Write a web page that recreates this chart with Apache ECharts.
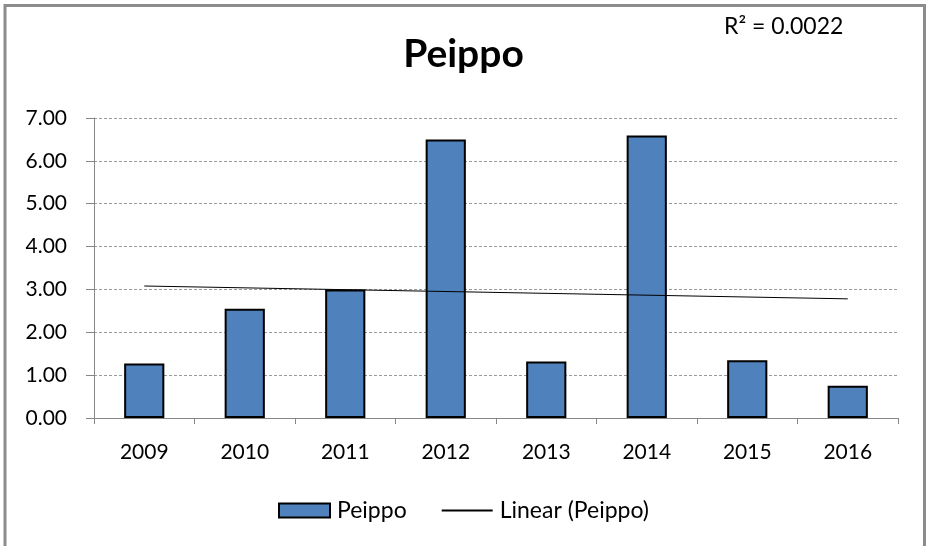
<!DOCTYPE html>
<html>
<head>
<meta charset="utf-8">
<script src="https://cdn.jsdelivr.net/npm/echarts@6/dist/echarts.min.js"></script>
<style>
  html, body { margin: 0; padding: 0; background: #fff; }
  #chart { width: 927px; height: 546px; }
</style>
</head>
<body>
<div id="chart"></div>
<script>
const years = ['2009', '2010', '2011', '2012', '2013', '2014', '2015', '2016']
const peippo = [1.27, 2.55, 3.0, 6.5, 1.32, 6.59, 1.35, 0.75]
// trendline endpoints as drawn (2009 -> 2016)
const trendStart = 3.08
const trendEnd = 2.78
const yTicks = [0, 1, 2, 3, 4, 5, 6, 7]
const rSquared = 'R² = 0.0022'

const font = 'Lato, "Open Sans", sans-serif'
const chart = echarts.init(document.getElementById('chart'))

chart.setOption({
  animation: false,
  title: {
    text: 'Peippo',
    left: 'center',
    top: 30,
    textStyle: { fontFamily: font, fontWeight: 'bold', fontSize: 39, color: '#000' },
  },
  grid: { left: 94, right: 29, top: 118, bottom: 128, containLabel: false },
  legend: {
    left: 278,
    top: 499,
    padding: 0,
    itemGap: 34,
    itemWidth: 51,
    itemHeight: 14,
    textStyle: { fontFamily: font, fontSize: 23, color: '#000', padding: [0, 0, 0, 2] },
    data: [{ name: 'Peippo', icon: 'rect' }, { name: 'Linear (Peippo)', itemStyle: { opacity: 0 } }],
  },
  xAxis: {
    type: 'category',
    data: years,
    axisLine: { lineStyle: { color: '#868686', width: 1 } },
    axisTick: { show: true, length: 6, inside: false, alignWithLabel: false, lineStyle: { color: '#868686' } },
    axisLabel: { fontFamily: font, fontSize: 21, color: '#000', margin: 24 },
  },
  yAxis: {
    type: 'value',
    min: yTicks[0],
    max: yTicks[yTicks.length - 1],
    interval: 1,
    axisLine: { show: true, lineStyle: { color: '#868686', width: 1 } },
    axisTick: { show: true, length: 8, lineStyle: { color: '#868686' } },
    axisLabel: { fontFamily: font, fontSize: 21, color: '#000', margin: 27, formatter: (v) => v.toFixed(2) },
    splitLine: { show: true, lineStyle: { color: '#9a9a9a', type: [3, 2], width: 1 } },
  },
  series: [
    {
      name: 'Peippo',
      type: 'bar',
      barWidth: '40%',
      data: peippo,
      itemStyle: { color: '#4f81bd', borderColor: '#000', borderWidth: 2 },
    },
    {
      name: 'Linear (Peippo)',
      type: 'line',
      symbol: 'none',
      data: [[years[0], trendStart], [years[years.length - 1], trendEnd]],
      lineStyle: { color: '#000', width: 1 },
      itemStyle: { color: '#000' },
      z: 5,
    },
  ],
  graphic: [
    {
      type: 'polyline',
      shape: { points: [[5, 546], [5, 5.5], [924.5, 5.5], [924.5, 546]] },
      style: { stroke: '#8c8c8c', lineWidth: 3, fill: null },
      silent: true,
    },
    {
      type: 'text',
      left: 724,
      top: 15,
      style: { text: rSquared, font: '23px ' + font, fill: '#000' },
    },
  ],
})
</script>
</body>
</html>
